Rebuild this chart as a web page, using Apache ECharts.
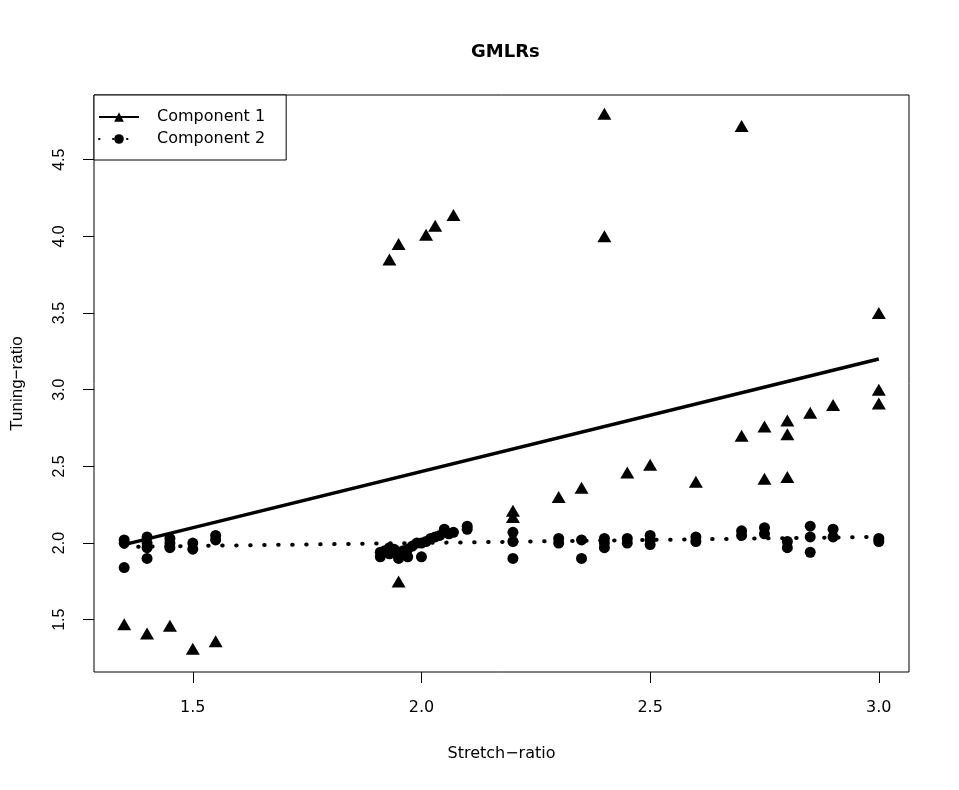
<!DOCTYPE html>
<html>
<head>
<meta charset="utf-8">
<title>GMLRs</title>
<script src="https://cdn.jsdelivr.net/npm/echarts@6/dist/echarts.min.js"></script>
<style>
html, body { margin: 0; padding: 0; background: #fff; }
#main { width: 959px; height: 790px; }
</style>
</head>
<body>
<div id="main"></div>
<script>
// tick labels
var xTicks = [1.5, 2.0, 2.5, 3.0];
var yTicks = [1.5, 2.0, 2.5, 3.0, 3.5, 4.0, 4.5];

// Component 1 (triangles)
var comp1X = [1.35, 1.40, 1.45, 1.50, 1.55, 1.93, 1.95, 1.95, 2.01, 2.03, 2.07, 2.20, 2.20, 2.30, 2.35, 2.40,
	2.40, 2.45, 2.50, 2.60, 2.70, 2.70, 2.75, 2.75, 2.80, 2.80, 2.80, 2.85, 2.90, 3.00, 3.00, 3.00];
var comp1Y = [1.47, 1.41, 1.46, 1.31, 1.36, 3.85, 3.95, 1.75, 4.01, 4.07, 4.14, 2.21, 2.17, 2.30, 2.36, 4.80,
	4.00, 2.46, 2.51, 2.40, 4.72, 2.70, 2.76, 2.42, 2.80, 2.71, 2.43, 2.85, 2.90, 3.50, 3.00, 2.91];

// Component 2 (circles)
var comp2X = [1.35, 1.35, 1.35, 1.40, 1.40, 1.40, 1.40, 1.45, 1.45, 1.45, 1.50, 1.50, 1.55, 1.55,
	1.91, 1.91, 1.92, 1.93, 1.93, 1.94, 1.95, 1.95, 1.96, 1.97, 1.97, 1.98, 1.99, 2.00, 2.00, 2.01,
	2.02, 2.03, 2.04, 2.05, 2.06, 2.07, 2.10, 2.10,
	2.20, 2.20, 2.20, 2.30, 2.30, 2.35, 2.35, 2.40, 2.40, 2.40, 2.45, 2.45, 2.50, 2.50, 2.50,
	2.60, 2.60, 2.70, 2.70, 2.75, 2.75, 2.80, 2.80, 2.85, 2.85, 2.85, 2.90, 2.90, 3.00, 3.00];
var comp2Y = [2.02, 2.00, 1.84, 2.04, 2.00, 1.97, 1.90, 2.03, 2.00, 1.97, 2.00, 1.96, 2.05, 2.02,
	1.91, 1.94, 1.95, 1.93, 1.97, 1.96, 1.92, 1.90, 1.95, 1.91, 1.96, 1.98, 2.00, 1.91, 2.00, 2.01,
	2.03, 2.04, 2.05, 2.09, 2.06, 2.07, 2.11, 2.09,
	2.07, 2.01, 1.90, 2.03, 2.00, 2.02, 1.90, 2.03, 2.00, 1.97, 2.03, 2.00, 2.05, 2.02, 1.99,
	2.04, 2.01, 2.08, 2.05, 2.10, 2.06, 2.01, 1.97, 2.11, 2.04, 1.94, 2.09, 2.04, 2.03, 2.01];

// fitted regression lines
var fitX = [1.35, 3.00];
var fit1Y = [1.99, 3.20];
var fit2Y = [1.975, 2.04];

function pairs(xs, ys) {
	var out = [];
	for (var i = 0; i < xs.length; i++) {
		out.push([xs[i], ys[i]]);
	}
	return out;
}

var chart = echarts.init(document.getElementById('main'));

var option = {
	animation: false,
	backgroundColor: '#fff',
	title: {
		text: 'GMLRs',
		left: 466,
		top: 38,
		textStyle: {
			fontFamily: 'DejaVu Sans',
			fontWeight: 'bold',
			fontSize: 18,
			color: '#000'
		}
	},
	legend: {
		orient: 'vertical',
		left: 94,
		top: 95,
		data: ['Component 1', 'Component 2'],
		itemWidth: 40,
		itemHeight: 12,
		itemGap: 6,
		padding: [14, 21, 13, 4],
		borderColor: '#000',
		borderWidth: 1,
		backgroundColor: '#fff',
		selectedMode: false,
		textStyle: {
			fontFamily: 'DejaVu Sans',
			fontSize: 16,
			color: '#000',
			padding: [0, 0, 0, 13]
		}
	},
	grid: {
		left: 94,
		top: 95,
		width: 815,
		height: 577,
		show: true,
		borderColor: '#000',
		borderWidth: 1
	},
	xAxis: {
		type: 'value',
		min: 1.284,
		max: 3.066,
		name: 'Stretch\u2212ratio',
		nameLocation: 'middle',
		nameGap: 74,
		nameTextStyle: { fontFamily: 'DejaVu Sans', fontSize: 16, color: '#000' },
		axisLine: { show: false },
		splitLine: { show: false },
		axisTick: {
			show: true,
			length: 11,
			customValues: xTicks,
			lineStyle: { color: '#000', width: 1 }
		},
		axisLabel: {
			customValues: xTicks,
			margin: 28,
			fontFamily: 'DejaVu Sans',
			fontSize: 16,
			color: '#000',
			formatter: function (v) { return v.toFixed(1); }
		}
	},
	yAxis: {
		type: 'value',
		min: 1.159,
		max: 4.922,
		name: 'Tuning\u2212ratio',
		nameLocation: 'middle',
		nameGap: 68,
		nameTextStyle: { fontFamily: 'Liberation Sans', fontSize: 17, color: '#000' },
		axisLine: { show: false },
		splitLine: { show: false },
		axisTick: {
			show: true,
			length: 11,
			customValues: yTicks,
			lineStyle: { color: '#000', width: 1 }
		},
		axisLabel: {
			customValues: yTicks,
			rotate: 90,
			margin: 26,
			fontFamily: 'Liberation Sans',
			fontSize: 16,
			color: '#000',
			formatter: function (v) { return v.toFixed(1); }
		}
	},
	series: [
		{
			name: 'c1 points',
			type: 'scatter',
			symbol: 'triangle',
			symbolSize: [14, 12],
			itemStyle: { color: '#000', opacity: 1 },
			data: pairs(comp1X, comp1Y),
			z: 2
		},
		{
			name: 'c2 points',
			type: 'scatter',
			symbol: 'circle',
			symbolSize: 11,
			itemStyle: { color: '#000', opacity: 1 },
			data: pairs(comp2X, comp2Y),
			z: 2
		},
		{
			name: 'Component 1',
			type: 'line',
			symbol: 'triangle',
			symbolSize: [10, 9],
			showSymbol: false,
			itemStyle: { color: '#000' },
			lineStyle: { color: '#000', width: 3.5, type: 'solid' },
			data: pairs(fitX, fit1Y),
			z: 3
		},
		{
			name: 'Component 2',
			type: 'line',
			symbol: 'circle',
			symbolSize: 10,
			showSymbol: false,
			itemStyle: { color: '#000' },
			lineStyle: { color: '#000', width: 4, type: [0.5, 13.5], cap: 'round' },
			data: pairs(fitX, fit2Y),
			z: 3
		}
	]
};

chart.setOption(option);
</script>
</body>
</html>
